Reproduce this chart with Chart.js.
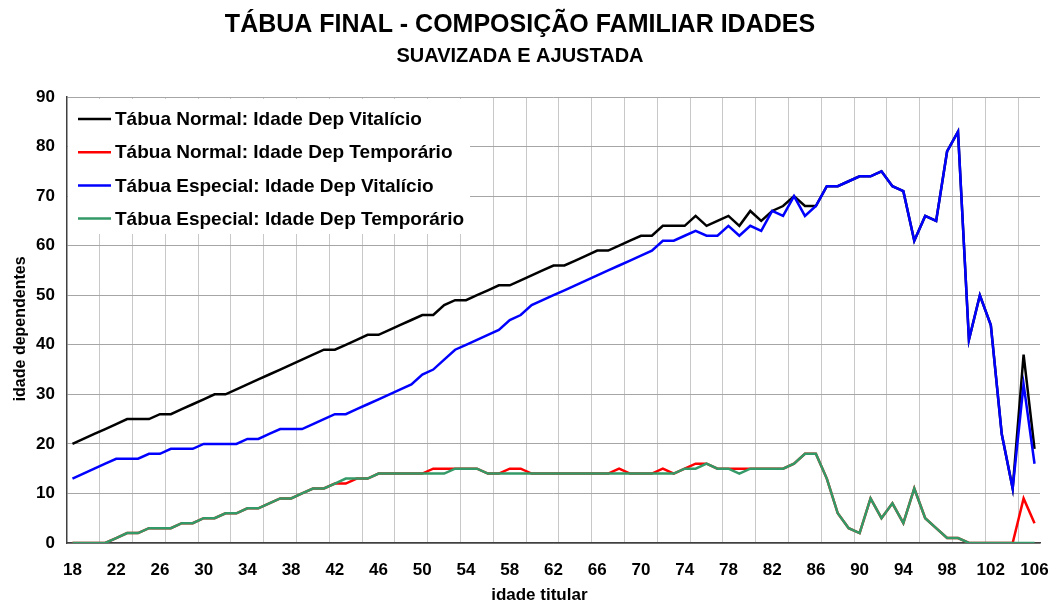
<!DOCTYPE html>
<html>
<head>
<meta charset="utf-8">
<script src="https://cdn.jsdelivr.net/npm/chart.js@4.4.0/dist/chart.umd.min.js"></script>
<style>
  html, body { margin: 0; padding: 0; background: #fff; }
  #wrap { width: 1050px; height: 604px; position: relative; }
</style>
</head>
<body>
<div id="wrap"><canvas id="chart"></canvas></div>
<script>
// idade do titular (categorias)
const ages = [18,19,20,21,22,23,24,25,26,27,28,29,30,31,32,33,34,35,36,37,38,39,40,41,42,43,44,45,46,47,
  48,49,50,51,52,53,54,55,56,57,58,59,60,61,62,63,64,65,66,67,68,69,70,71,72,73,74,75,76,77,
  78,79,80,81,82,83,84,85,86,87,88,89,90,91,92,93,94,95,96,97,98,99,100,101,102,103,104,105,106];

const normalVitalicio = [20,21,22,23,24,25,25,25,26,26, 27,28,29,30,30,31,32,33,34,35,
  36,37,38,39,39,40,41,42,42,43, 44,45,46,46,48,49,49,50,51,52, 52,53,54,55,56,56,57,58,59,59,
  60,61,62,62,64,64,64,66,64,65, 66,64,67,65,67,68,70,68,68,72, 72,73,74,74,75,72,71,61,66,65,
  79,83,41,50,44,22,11,38,19];

const normalTemporario = [0,0,0,0,1,2,2,3,3,3, 4,4,5,5,6,6,7,7,8,9,
  9,10,11,11,12,12,13,13,14,14, 14,14,14,15,15,15,15,15,14,14, 15,15,14,14,14,14,14,14,14,14,
  15,14,14,14,15,14,15,16,16,15, 15,15,15,15,15,15,16,18,18,13, 6,3,2,9,5,8,4,11,5,3,
  1,1,0,0,0,0,0,9,4];

const especialVitalicio = [13,14,15,16,17,17,17,18,18,19, 19,19,20,20,20,20,21,21,22,23,
  23,23,24,25,26,26,27,28,29,30, 31,32,34,35,37,39,40,41,42,43, 45,46,48,49,50,51,52,53,54,55,
  56,57,58,59,61,61,62,63,62,62, 64,62,64,63,67,66,70,66,68,72, 72,73,74,74,75,72,71,61,66,65,
  79,83,41,50,44,22,11,32,16];

const especialTemporario = [0,0,0,0,1,2,2,3,3,3, 4,4,5,5,6,6,7,7,8,9,
  9,10,11,11,12,13,13,13,14,14, 14,14,14,14,14,15,15,15,14,14, 14,14,14,14,14,14,14,14,14,14,
  14,14,14,14,14,14,15,15,16,15, 15,14,15,15,15,15,16,18,18,13, 6,3,2,9,5,8,4,11,5,3,
  1,1,0,0,0,0,0,0,0];

const xTickLabels = [18,22,26,30,34,38,42,46,50,54,58,62,66,70,74,78,82,86,90,94,98,102,106];
const yTickLabels = [0,10,20,30,40,50,60,70,80,90];

const FONT = '"Liberation Sans", Arial, sans-serif';
Chart.defaults.font.family = FONT;
Chart.defaults.font.weight = 'bold';
Chart.defaults.color = '#000';

const toPoints = vals => vals.map((v, i) => ({ x: ages[i], y: v }));

// vertical gridlines every 3 categories, on category boundaries
const X_MIN = ages[0] - 0.5, X_MAX = ages[ages.length - 1] + 0.5;
const isGridTick = v => v > X_MIN && Math.abs(((v - X_MIN) % 3)) < 1e-6;

const legendBox = {
  id: 'legendBox',
  beforeDatasetsDraw(chart) {
    const { ctx, chartArea } = chart;
    const L = chartArea.left, T = chartArea.top;
    ctx.save();
    ctx.fillStyle = '#ffffff';
    ctx.fillRect(L + 1, T + 2, 402, 135);
    ctx.font = 'bold 19px ' + FONT;
    ctx.textBaseline = 'middle';
    ctx.textAlign = 'left';
    chart.data.datasets.forEach((ds, i) => {
      const y = T + 22 + i * 33.2;
      ctx.strokeStyle = ds.borderColor;
      ctx.lineWidth = 2.5;
      ctx.beginPath();
      ctx.moveTo(L + 11, y);
      ctx.lineTo(L + 44, y);
      ctx.stroke();
      ctx.fillStyle = '#000';
      ctx.fillText(ds.label, L + 48, y + 1);
    });
    ctx.restore();
  }
};

const lineDs = (label, data, color, order) => ({
  label, data: toPoints(data), borderColor: color, backgroundColor: color,
  borderWidth: 2.5, pointRadius: 0, tension: 0, fill: false, order
});

new Chart(document.getElementById('chart').getContext('2d'), {
  type: 'line',
  data: {
    datasets: [
      lineDs('Tábua Normal: Idade Dep Vitalício', normalVitalicio, '#000000', 4),
      lineDs('Tábua Normal: Idade Dep Temporário', normalTemporario, '#ff0000', 3),
      lineDs('Tábua Especial: Idade Dep Vitalício', especialVitalicio, '#0000ff', 2),
      lineDs('Tábua Especial: Idade Dep Temporário', especialTemporario, '#339966', 1)
    ]
  },
  options: {
    responsive: true,
    maintainAspectRatio: false,
    animation: false,
    layout: { padding: { left: 0, right: 10, top: 0, bottom: 0 } },
    plugins: {
      legend: { display: false },
      tooltip: { enabled: false },
      title: {
        display: true, text: 'TÁBUA FINAL - COMPOSIÇÃO FAMILIAR IDADES',
        font: { size: 25, weight: 'bold' }, color: '#000', padding: { top: 10, bottom: 4 }
      },
      subtitle: {
        display: true, text: 'SUAVIZADA E AJUSTADA',
        font: { size: 20, weight: 'bold' }, color: '#000', padding: { top: 0, bottom: 29 }
      }
    },
    scales: {
      x: {
        type: 'linear', min: X_MIN, max: X_MAX,
        afterBuildTicks: s => {
          const vals = xTickLabels.slice();
          for (let v = X_MIN + 3; v < X_MAX; v += 3) vals.push(v);
          s.ticks = vals.sort((a, b) => a - b).map(v => ({ value: v }));
        },
        afterFit: s => { s.height = 61; s.paddingLeft = 0; s.paddingRight = 0; },
        grid: {
          color: c => (c.tick && isGridTick(c.tick.value)) ? '#c8c8c8' : 'rgba(0,0,0,0)',
          lineWidth: 1, drawTicks: false
        },
        border: { color: '#404040', width: 1.5 },
        ticks: {
          autoSkip: false, maxRotation: 0, padding: 17,
          font: { size: 17, weight: 'bold' },
          callback: v => xTickLabels.includes(v) ? String(v) : ''
        },
        title: {
          display: true, text: 'idade titular      ',
          font: { size: 17, weight: 'bold' }, padding: { top: 0, bottom: -2 }
        }
      },
      y: {
        min: 0, max: 90,
        afterBuildTicks: s => { s.ticks = yTickLabels.map(v => ({ value: v })); },
        afterFit: s => { s.width = 67; },
        grid: { color: '#a6a6a6', lineWidth: 1, drawTicks: false },
        border: { color: '#404040', width: 1.5 },
        ticks: { padding: 12, font: { size: 17, weight: 'bold' } },
        title: {
          display: true, text: 'idade dependentes    ',
          font: { size: 16, weight: 'bold' }, padding: { top: 11, bottom: 0 }
        }
      }
    }
  },
  plugins: [legendBox]
});
</script>
</body>
</html>
